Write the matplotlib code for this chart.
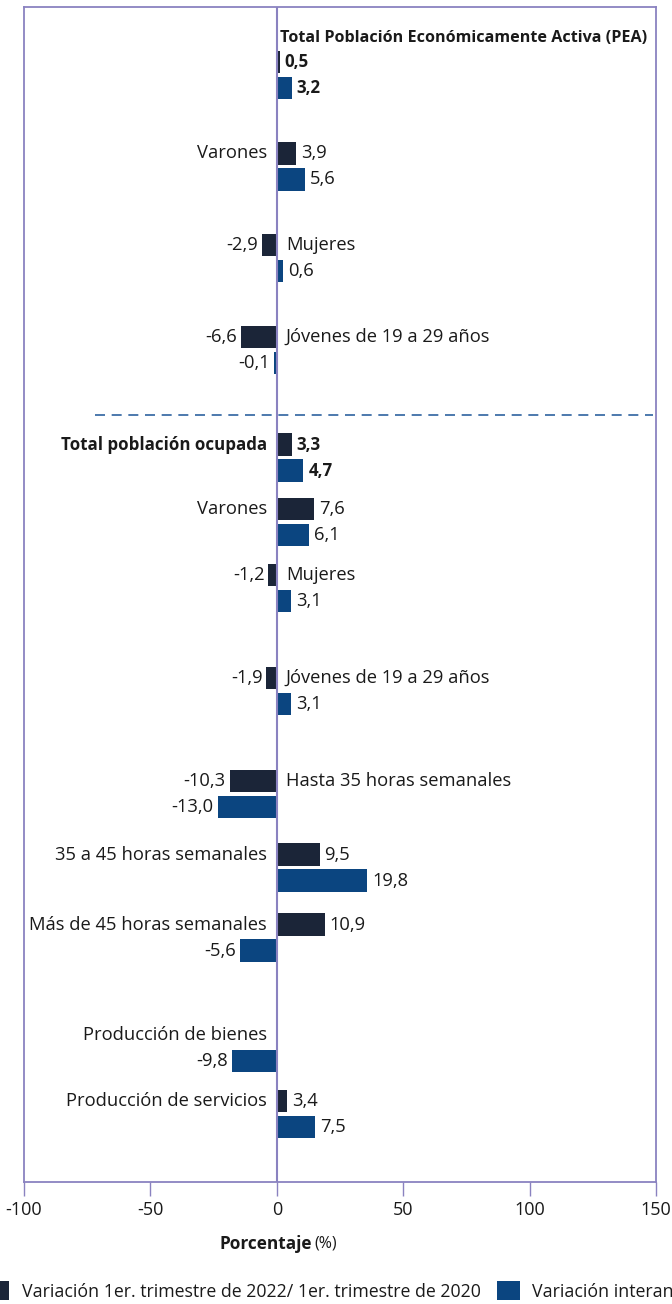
import numpy as np
import matplotlib
matplotlib.use("Agg")
import matplotlib.pyplot as plt
from matplotlib.patches import Patch
import matplotlib.transforms as mtransforms

plt.rcParams['font.family'] = ['Open Sans', 'DejaVu Sans']

# ---------------- data ----------------
categories = [
    "Total Población Económicamente Activa (PEA)",
    "Varones",
    "Mujeres",
    "Jóvenes de 19 a 29 años",
    "Total población ocupada",
    "Varones",
    "Mujeres",
    "Jóvenes de 19 a 29 años",
    "Hasta 35 horas semanales",
    "35 a 45 horas semanales",
    "Más de 45 horas semanales",
    "Producción de bienes",
    "Producción de servicios",
]
# printed values (labels)
var_2022_2020 = [0.5, 3.9, -2.9, -6.6, 3.3, 7.6, -1.2, -1.9, -10.3, 9.5, 10.9, np.nan, 3.4]
var_interanual = [3.2, 5.6, 0.6, -0.1, 4.7, 6.1, 3.1, 3.1, -13.0, 19.8, -5.6, -9.8, 7.5]
# bar lengths as drawn on the percentage axis of the picture
bar_2022_2020 = [1.2, 7.5, -6.0, -14.3, 5.9, 14.9, -3.3, -4.1, -18.7, 16.9, 18.9, np.nan, 4.2]
bar_interanual = [5.9, 11.3, 2.4, -1.3, 10.5, 12.9, 5.8, 5.8, -23.4, 35.8, -14.7, -17.8, 15.3]
bold_rows = [0, 4]
series_names = ["Variación 1er. trimestre de 2022/ 1er. trimestre de 2020",
                "Variación interanual"]
x_ticks = [-100, -50, 0, 50, 100, 150]

# ---------------- layout ----------------
row_pos = np.array([54.7, 146.2, 237.7, 329.7, 437.2, 501.7, 567.7, 670.7,
                    773.7, 847.2, 917.4, 1027.7, 1093.7])
pair_offset = 26.0
bar_h = 22.5
separator_y = 407.7

dark = "#1b2538"
blue = "#0b4580"
frame = "#8a82c0"
txt = "#1a1a1a"

W, H = 672, 1304
fig = plt.figure(figsize=(W / 100, H / 100), dpi=100)
ax = fig.add_axes([24 / W, 1 - 1181.7 / H, 632 / W, (1181.7 - 7.3) / H])
ax.set_xlim(-100, 150)
ax.set_ylim(1174.4, 0)

ax.barh(row_pos, bar_2022_2020, height=bar_h, color=dark, zorder=3)
ax.barh(row_pos + pair_offset, bar_interanual, height=bar_h, color=blue, zorder=3)

ax.axvline(0, color=frame, lw=1.5, zorder=4)
ax.axhline(separator_y, xmin=(95 - 24) / 632, xmax=0.995, color="#2e62a0",
           lw=1.2, ls=(0, (6, 4)), zorder=2)

fs = 13.2
fs_bold = 12.2
fs_title = 11.6


def fmt(v):
    return f"{v:.1f}".replace(".", ",")


def off(dx):
    return ax.transData + mtransforms.ScaledTranslation(dx / 100, 0, fig.dpi_scale_trans)


for i, cat in enumerate(categories):
    y_d = row_pos[i]
    y_b = row_pos[i] + pair_offset
    is_bold = i in bold_rows
    weight = "bold" if is_bold else "normal"
    size = fs_bold if is_bold else fs
    # value labels
    for y, b, v in ((y_d, bar_2022_2020[i], var_2022_2020[i]),
                    (y_b, bar_interanual[i], var_interanual[i])):
        if np.isnan(v):
            continue
        if b >= 0:
            ax.text(b, y, fmt(v), transform=off(5), ha="left", va="center",
                    fontsize=size, color=txt, fontweight=weight)
        else:
            ax.text(b, y, fmt(v), transform=off(-4), ha="right", va="center",
                    fontsize=size, color=txt, fontweight=weight)
    # category labels
    if i == 0:
        ax.text(0, y_d - 24, cat, transform=off(3), ha="left", va="center",
                fontsize=fs_title, color=txt, fontweight="bold")
    else:
        d = var_2022_2020[i]
        if np.isnan(d) or d >= 0:
            ax.text(0, y_d, cat, transform=off(-10), ha="right", va="center",
                    fontsize=size, color=txt, fontweight=weight)
        else:
            ax.text(0, y_d, cat, transform=off(9), ha="left", va="center",
                    fontsize=size, color=txt, fontweight=weight)

ax.set_yticks([])
ax.set_xticks(x_ticks)
ax.set_xticklabels([str(t) for t in x_ticks], fontsize=13, color=txt)
ax.tick_params(axis="x", direction="out", length=10, width=1, color=frame, pad=4)
for s in ax.spines.values():
    s.set_color(frame)
    s.set_linewidth(1.3)

# axis title: bold word plus regular unit, centred on the zero line
ax.annotate("Porcentaje", xy=(0, 0), xycoords=("data", "axes fraction"),
            xytext=(35, -62), textcoords="offset pixels", ha="right", va="center",
            fontsize=12.4, fontweight="bold", color=txt, annotation_clip=False)
ax.annotate("(%)", xy=(0, 0), xycoords=("data", "axes fraction"),
            xytext=(38, -62), textcoords="offset pixels", ha="left", va="center",
            fontsize=11.5, color=txt, annotation_clip=False)

handles = [Patch(facecolor=dark, edgecolor="none"), Patch(facecolor=blue, edgecolor="none")]
fig.legend(handles, series_names, loc="center left", bbox_to_anchor=(-13 / W, 1 - 1291 / H),
           ncol=2, frameon=False, fontsize=12.8, borderpad=0, borderaxespad=0,
           handlelength=1.25, handleheight=1.25, handletextpad=0.7, columnspacing=0.95,
           labelcolor=txt)

fig.savefig("out.png", dpi=100)
